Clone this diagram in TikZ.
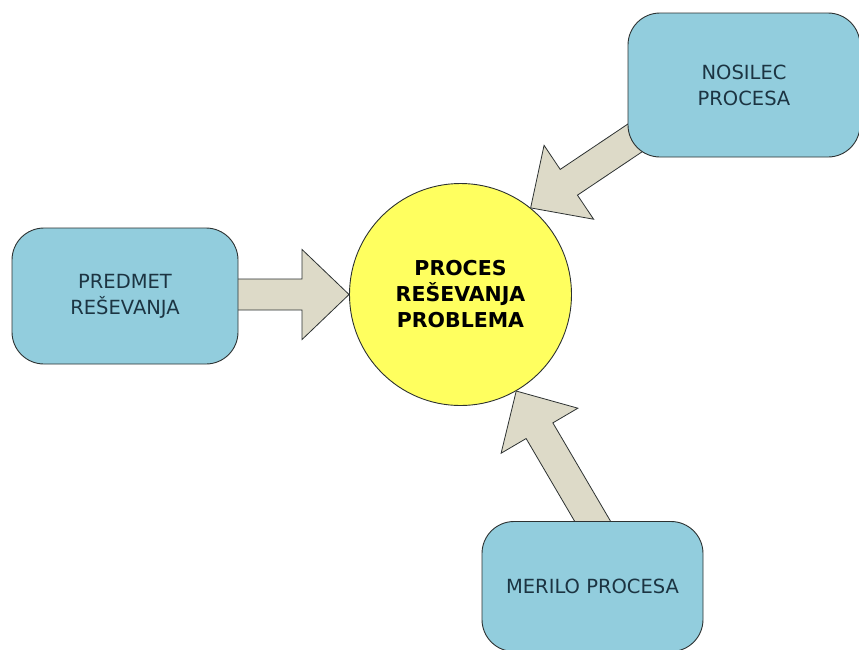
\documentclass[tikz,border=0pt]{standalone}
\usepackage{fontspec}
\setmainfont{DejaVu Sans}
\usetikzlibrary{calc}
\definecolor{boxblue}{RGB}{146,205,221}
\definecolor{boxtext}{RGB}{28,52,66}
\definecolor{arrowfill}{RGB}{221,218,200}
\definecolor{procyellow}{RGB}{255,255,95}
\definecolor{outline}{RGB}{45,50,50}
\tikzset{
  infobox/.style={draw=outline, fill=boxblue, rounded corners=32pt, line width=0.9pt,
    text=boxtext, font=\fontsize{19.5}{26}\selectfont, align=center, inner sep=0pt},
  procnode/.style={circle, draw=outline, fill=procyellow, line width=0.9pt,
    minimum size=222pt, inner sep=0pt, align=center,
    font=\fontsize{20.5}{26}\selectfont\bfseries, text=black},
  blockarrowstyle/.style={draw=outline, fill=arrowfill, line width=0.8pt, line join=miter},
}
% start, tip, shaft half width, head half width, head length
\newcommand\blockarrow[5]{%
  \coordinate (ba-h) at ($(#2)!#5!(#1)$);
  \draw[blockarrowstyle] ($(#1)!#3!90:(#2)$) -- ($(ba-h)!#3!90:(#2)$)
    -- ($(ba-h)!#4!90:(#2)$) -- (#2) -- ($(ba-h)!#4!-90:(#2)$)
    -- ($(ba-h)!#3!-90:(#2)$) -- ($(#1)!#3!-90:(#2)$) -- cycle;
}
\begin{document}
\begin{tikzpicture}[x=1pt,y=-1pt]
\useasboundingbox (0,0) rectangle (859,649);
\fill[white] (0,0) rectangle (859,649);
\node[procnode] (proc) at (460.5,294.5) {PROCES\\REŠEVANJA\\PROBLEMA};
\coordinate (predS) at (225,294.5);
\coordinate (nosS) at (655,124.5);
\coordinate (merS) at (599.5,533);
\blockarrow{predS}{proc.180}{15.5pt}{45pt}{47pt}
\blockarrow{nosS}{proc.51}{15.5pt}{44.5pt}{46pt}
\blockarrow{merS}{proc.-60}{15.5pt}{44.5pt}{46pt}
\node[infobox, minimum width=226pt, minimum height=136pt] (pred) at (125,296) {PREDMET\\REŠEVANJA};
\node[infobox, minimum width=232pt, minimum height=144pt] (nos) at (744,85) {NOSILEC\\PROCESA};
\node[infobox, minimum width=221pt, minimum height=130pt] (mer) at (592.5,586.5) {MERILO PROCESA};
\end{tikzpicture}
\end{document}
